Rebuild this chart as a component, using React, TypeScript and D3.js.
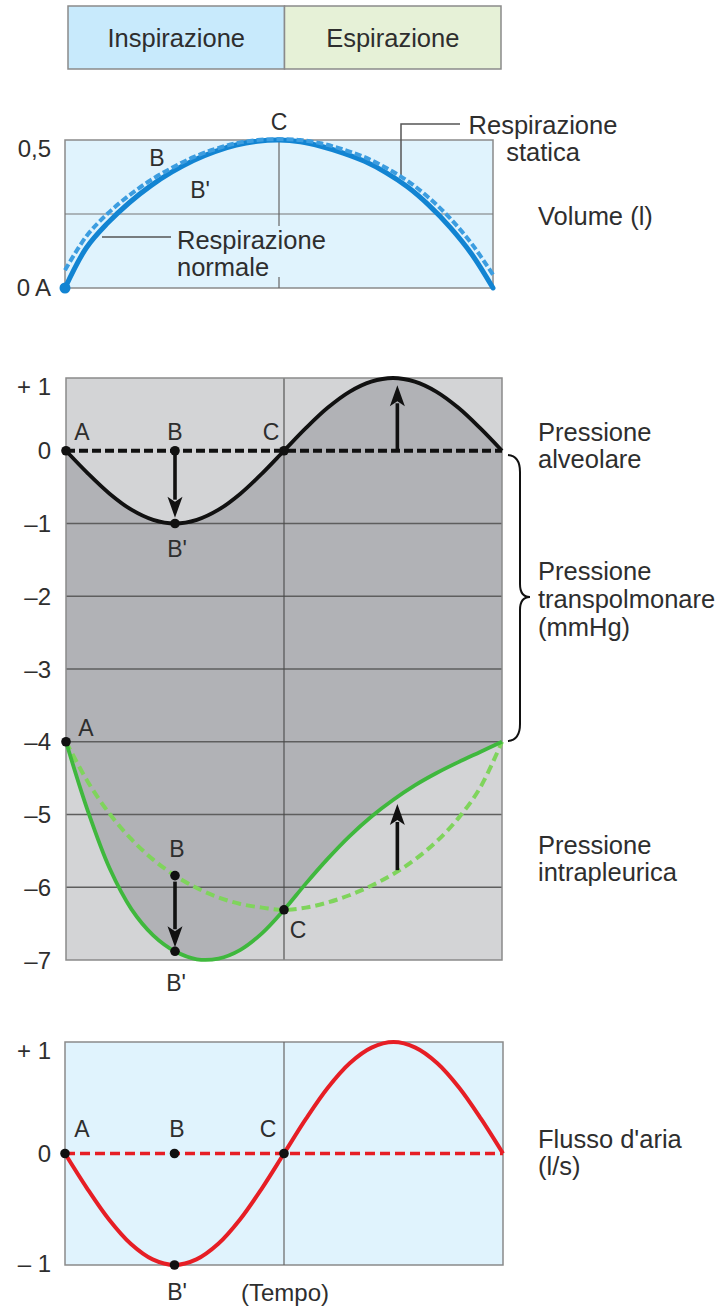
import React from 'react';
import * as d3 from 'd3';

// Breathing cycle: normalized time (0 = start of inspiration, 0.5 = end, 1 = end of expiration)
const timeSteps = [0, 0.05, 0.1, 0.15, 0.2, 0.25, 0.3, 0.35, 0.4, 0.45, 0.5, 0.55, 0.6, 0.65, 0.7, 0.75, 0.8, 0.85, 0.9, 0.95, 1];

const phases = ['Inspirazione', 'Espirazione'];

// Lung volume (l)
const volumeNormal = [0, 0.136, 0.22, 0.288, 0.345, 0.392, 0.431, 0.461, 0.483, 0.496, 0.5, 0.494, 0.478, 0.456, 0.428, 0.39, 0.342, 0.28, 0.205, 0.115, 0];
const volumeStatic = [0.06, 0.175, 0.252, 0.313, 0.364, 0.406, 0.442, 0.469, 0.489, 0.5, 0.503, 0.5, 0.488, 0.468, 0.442, 0.406, 0.362, 0.305, 0.235, 0.15, 0.045];

// Pressures (mmHg)
const alveolarPressure = [0, -0.31, -0.59, -0.81, -0.95, -1, -0.95, -0.81, -0.59, -0.31, 0, 0.31, 0.59, 0.81, 0.95, 1, 0.95, 0.81, 0.59, 0.31, 0];
const alveolarStatic = [0, 0];
const pleuralDynamic = [-4, -4.95, -5.74, -6.3, -6.66, -6.88, -6.99, -6.98, -6.86, -6.63, -6.31, -5.95, -5.61, -5.3, -5.03, -4.8, -4.6, -4.43, -4.28, -4.14, -4];
const pleuralStatic = [-4, -4.55, -4.99, -5.34, -5.62, -5.84, -6.01, -6.14, -6.23, -6.28, -6.31, -6.28, -6.21, -6.11, -5.98, -5.82, -5.62, -5.37, -5.05, -4.63, -4];

// Airflow (l/s)
const airflow = [0, -0.31, -0.59, -0.81, -0.95, -1, -0.95, -0.81, -0.59, -0.31, 0, 0.31, 0.59, 0.81, 0.95, 1, 0.95, 0.81, 0.59, 0.31, 0];
const airflowStatic = [0, 0];

const volumeTicks = [0.5, 0];
const pressureTicks = [1, 0, -1, -2, -3, -4, -5, -6, -7];
const pressureGrid = [-1, -2, -3, -4, -5, -6];
const flowTicks = [1, 0, -1];

const FONT = "'Liberation Sans', Arial, Helvetica, sans-serif";
const TXT = '#2e2e2e';

const fmtVolume = (v: number) => (v === 0.5 ? '0,5' : '0');
const fmtPressure = (v: number) => (v > 0 ? `+ ${v}` : v < 0 ? `\u2013${Math.abs(v)}` : '0');
const fmtFlow = (v: number) => (v > 0 ? `+ ${v}` : v < 0 ? `\u2013 ${Math.abs(v)}` : '0');

function Arrow({ x, from, to }: { x: number; from: number; to: number }) {
  const dir = Math.sign(to - from);
  const headLen = 21;
  const headW = 7.5;
  const base = to - dir * headLen;
  return (
    <g>
      <line x1={x} x2={x} y1={from} y2={base + dir * 3} stroke="#111" strokeWidth={3.6} />
      <path d={`M${x},${to} L${x - headW},${base} L${x},${base + dir * 5} L${x + headW},${base} Z`} fill="#111" />
    </g>
  );
}

function Dot({ x, y, fill = '#111', r = 4.8 }: { x: number; y: number; fill?: string; r?: number }) {
  return <circle cx={x} cy={y} r={r} fill={fill} />;
}

function Label({ x, y, text, anchor = 'middle', size = 23 }: { x: number; y: number; text: string; anchor?: string; size?: number }) {
  return (
    <text x={x} y={y} textAnchor={anchor as any} fontSize={size} fill={TXT} fontFamily={FONT} dominantBaseline="central">
      {text}
    </text>
  );
}

export default function App() {
  // ---- Header ----
  const hdrX = d3.scaleBand<string>().domain(phases).range([68, 501]);
  const hdrFill = ['#c8eafc', '#e6f1d7'];

  const smooth = d3.curveCatmullRom.alpha(0.5);

  // ---- Volume panel ----
  const vx = d3.scaleLinear().domain([0, 1]).range([65, 493]);
  const vy = d3.scaleLinear().domain([0, 0.5]).range([288, 140]);
  const vLine = d3
    .line<number>()
    .x((_, i) => vx(timeSteps[i]))
    .y((d) => vy(d))
    .curve(smooth);

  // ---- Pressure panel ----
  const px = d3.scaleLinear().domain([0, 1]).range([66, 502]);
  const py = d3.scaleLinear().domain([-7, 1]).range([960, 378]);
  const pLine = d3
    .line<number>()
    .x((_, i) => px(timeSteps[i]))
    .y((d) => py(d))
    .curve(smooth);
  const transArea = d3
    .area<number>()
    .x((_, i) => px(timeSteps[i]))
    .y0((d) => py(d))
    .y1((_, i) => py(pleuralDynamic[i]))
    .curve(smooth);

  // ---- Flow panel ----
  const fx = d3.scaleLinear().domain([0, 1]).range([65, 503]);
  const fy = d3.scaleLinear().domain([-1, 1]).range([1265, 1042]);
  const fLine = d3
    .line<number>()
    .x((_, i) => fx(timeSteps[i]))
    .y((d) => fy(d))
    .curve(smooth);

  const iB = timeSteps.indexOf(0.25);
  const iC = timeSteps.indexOf(0.5);
  const iE = timeSteps.indexOf(0.75);

  const rightX = 538;

  return (
    <svg
      width={726}
      height={1306}
      viewBox="0 0 726 1306"
      style={{ position: 'absolute', left: 0, top: 0, background: '#fff' }}
      fontFamily={FONT}
    >
      {/* Header: phases */}
      {phases.map((p, i) => (
        <g key={p}>
          <rect x={hdrX(p)} y={6} width={hdrX.bandwidth()} height={63} fill={hdrFill[i]} stroke="#8a8a8a" strokeWidth={1.5} />
          <Label x={(hdrX(p) as number) + hdrX.bandwidth() / 2} y={38} text={p} size={25.5} />
        </g>
      ))}

      {/* ===== Volume panel ===== */}
      <rect x={vx(0)} y={vy(0.5)} width={vx(1) - vx(0)} height={vy(0) - vy(0.5)} fill="#e0f3fd" stroke="#8a8a8a" strokeWidth={1.5} />
      <line x1={vx(0)} x2={vx(1)} y1={vy(0.25)} y2={vy(0.25)} stroke="#777" strokeWidth={1.2} />
      <line x1={vx(0.5)} x2={vx(0.5)} y1={vy(0.5)} y2={226} stroke="#666" strokeWidth={1.2} />
      <line x1={vx(0.5)} x2={vx(0.5)} y1={277} y2={vy(0)} stroke="#666" strokeWidth={1.2} />
      {volumeTicks.map((t) => (
        <Label key={t} x={t === 0 ? 30 : 51} y={vy(t) + (t === 0 ? -1 : 8)} text={fmtVolume(t)} anchor="end" size={24} />
      ))}
      <Label x={51} y={vy(0) - 1} text="A" anchor="end" size={24} />

      {/* leaders */}
      <line x1={102} x2={171} y1={237} y2={237} stroke="#555" strokeWidth={1.5} />
      <polyline points={`401,177 401,124 460,124`} fill="none" stroke="#555" strokeWidth={1.5} />

      <path d={vLine(volumeNormal) as string} fill="none" stroke="#1284d2" strokeWidth={5} strokeLinecap="round" />
      <path d={vLine(volumeStatic) as string} fill="none" stroke="#3c9de0" strokeWidth={4} strokeDasharray="7 3" />
      <Dot x={vx(0)} y={vy(0)} fill="#1284d2" r={5.5} />

      <Label x={vx(0.5)} y={122} text="C" />
      <Label x={157} y={158} text="B" />
      <Label x={200} y={190} text="B'" />
      <Label x={177} y={240} text="Respirazione" anchor="start" size={25.5} />
      <Label x={177} y={267} text="normale" anchor="start" size={25.5} />
      <Label x={543} y={125} text="Respirazione" size={25.5} />
      <Label x={543} y={152} text="statica" size={25.5} />
      <Label x={rightX} y={216} text="Volume (l)" anchor="start" size={25.5} />

      {/* ===== Pressure panel ===== */}
      <rect x={px(0)} y={py(1)} width={px(1) - px(0)} height={py(-7) - py(1)} fill="#d3d4d6" />
      <path d={transArea(alveolarPressure) as string} fill="#b1b2b6" />
      {pressureGrid.map((g) => (
        <line key={g} x1={px(0)} x2={px(1)} y1={py(g)} y2={py(g)} stroke="#5e5e5e" strokeWidth={1.3} />
      ))}
      <line x1={px(0.5)} x2={px(0.5)} y1={py(1)} y2={py(-7)} stroke="#4a4a4a" strokeWidth={1.1} />
      <rect x={px(0)} y={py(1)} width={px(1) - px(0)} height={py(-7) - py(1)} fill="none" stroke="#8a8a8a" strokeWidth={1.5} />
      {pressureTicks.map((t) => (
        <Label key={t} x={51} y={py(t) + (t === 1 ? 8 : 0)} text={fmtPressure(t)} anchor="end" size={24} />
      ))}

      {/* alveolar pressure */}
      <line x1={px(0)} x2={px(1)} y1={py(alveolarStatic[0])} y2={py(alveolarStatic[1])} stroke="#111" strokeWidth={4} strokeDasharray="9 4" />
      <path d={pLine(alveolarPressure) as string} fill="none" stroke="#111" strokeWidth={3.8} />
      <Arrow x={px(timeSteps[iB])} from={py(0)} to={py(-0.92)} />
      <Arrow x={px(0.76)} from={py(0)} to={py(0.9)} />
      <Dot x={px(0)} y={py(0)} />
      <Dot x={px(timeSteps[iB])} y={py(0)} />
      <Dot x={px(timeSteps[iC])} y={py(0)} />
      <Dot x={px(timeSteps[iB])} y={py(alveolarPressure[iB])} />
      <Label x={82} y={432} text="A" />
      <Label x={175} y={432} text="B" />
      <Label x={271} y={432} text="C" />
      <Label x={177} y={549} text="B'" />

      {/* intrapleural pressure */}
      <path d={pLine(pleuralStatic) as string} fill="none" stroke="#7fd45c" strokeWidth={4} strokeDasharray="9 5" />
      <path d={pLine(pleuralDynamic) as string} fill="none" stroke="#3fb83d" strokeWidth={3.8} />
      <Arrow x={px(timeSteps[iB])} from={py(pleuralStatic[iB]) + 6} to={py(pleuralDynamic[iB]) - 4} />
      <Arrow x={px(0.76)} from={py(pleuralStatic[iE]) - 4} to={py(pleuralDynamic[iE]) + 4} />
      <Dot x={px(0)} y={py(pleuralDynamic[0])} />
      <Dot x={px(timeSteps[iB])} y={py(pleuralStatic[iB])} />
      <Dot x={px(timeSteps[iB])} y={py(pleuralDynamic[iB])} />
      <Dot x={px(timeSteps[iC])} y={py(pleuralDynamic[iC])} />
      <Label x={86} y={728} text="A" />
      <Label x={177} y={849} text="B" />
      <Label x={176} y={983} text="B'" />
      <Label x={298} y={930} text="C" />

      {/* transpulmonary brace */}
      <path
        d="M508,455 Q520,456 520,472 L520,584 Q520,597 530,597 Q520,597 520,610 L520,724 Q520,740 508,741"
        fill="none"
        stroke="#111"
        strokeWidth={2}
      />
      <Label x={rightX} y={432} text="Pressione" anchor="start" size={25.5} />
      <Label x={rightX} y={459} text="alveolare" anchor="start" size={25.5} />
      <Label x={rightX} y={571} text="Pressione" anchor="start" size={25.5} />
      <Label x={rightX} y={599} text="transpolmonare" anchor="start" size={25.5} />
      <Label x={rightX} y={627} text="(mmHg)" anchor="start" size={25.5} />
      <Label x={rightX} y={845} text="Pressione" anchor="start" size={25.5} />
      <Label x={rightX} y={872} text="intrapleurica" anchor="start" size={25.5} />

      {/* ===== Flow panel ===== */}
      <rect x={fx(0)} y={fy(1)} width={fx(1) - fx(0)} height={fy(-1) - fy(1)} fill="#e0f3fd" stroke="#8a8a8a" strokeWidth={1.5} />
      <line x1={fx(0.5)} x2={fx(0.5)} y1={fy(1)} y2={fy(-1)} stroke="#666" strokeWidth={1.2} />
      {flowTicks.map((t) => (
        <Label key={t} x={51} y={fy(t) + (t === 1 ? 8 : t === -1 ? -2 : 0)} text={fmtFlow(t)} anchor="end" size={24} />
      ))}
      <line x1={fx(0)} x2={fx(1)} y1={fy(airflowStatic[0])} y2={fy(airflowStatic[1])} stroke="#e61e25" strokeWidth={3.5} strokeDasharray="10 5" />
      <path d={fLine(airflow) as string} fill="none" stroke="#e61e25" strokeWidth={4} />
      <Dot x={fx(0)} y={fy(0)} />
      <Dot x={fx(timeSteps[iB])} y={fy(0)} />
      <Dot x={fx(timeSteps[iC])} y={fy(0)} />
      <Dot x={fx(timeSteps[iB])} y={fy(airflow[iB])} />
      <Label x={82} y={1129} text="A" />
      <Label x={177} y={1129} text="B" />
      <Label x={268} y={1129} text="C" />
      <Label x={177} y={1292} text="B'" />
      <Label x={285} y={1292} text="(Tempo)" size={24} />
      <Label x={rightX} y={1139} text="Flusso d'aria" anchor="start" size={25.5} />
      <Label x={rightX} y={1166} text="(l/s)" anchor="start" size={25.5} />
    </svg>
  );
}
